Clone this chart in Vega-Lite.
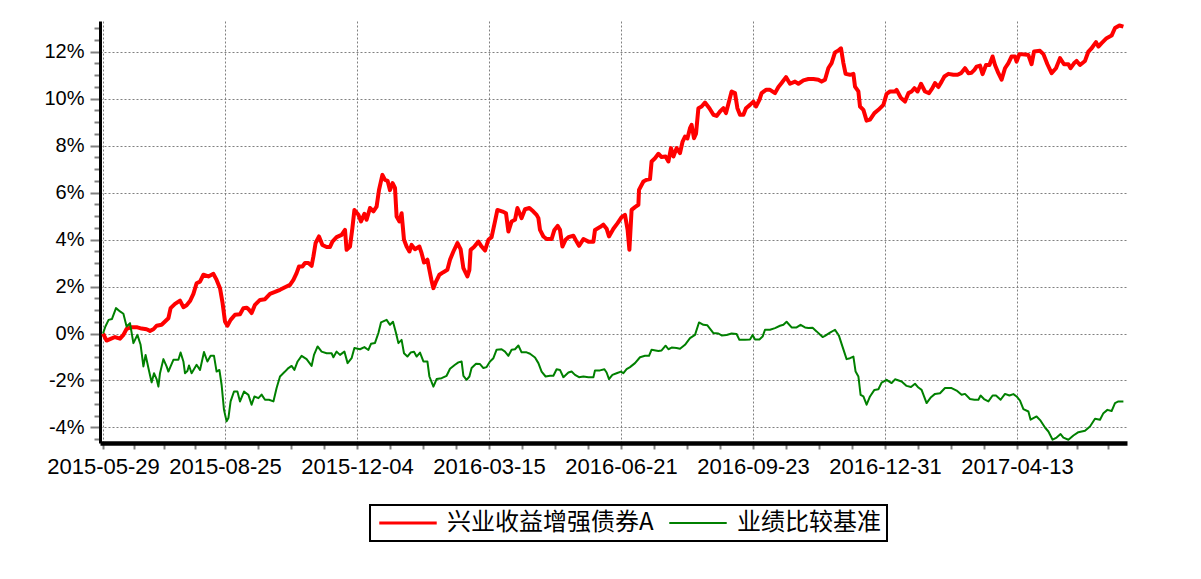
{
"$schema":"https://vega.github.io/schema/vega-lite/v6.json",
"width":1027,"height":422,
"autosize":{"type":"none"},
"padding":{"left":100,"top":21,"right":74,"bottom":136},
"background":"white",
"config":{"view":{"stroke":null},"font":"Liberation Sans"},
"datasets":{
"fund":[{"i":0,"v":0},{"i":1.8,"v":-0.3},{"i":3.5,"v":-0.24},{"i":6,"v":-0.15},{"i":8.5,"v":-0.22},{"i":10.2,"v":-0.06},{"i":11.8,"v":0.2},{"i":14.3,"v":0.27},{"i":16.8,"v":0.27},{"i":19.3,"v":0.21},{"i":21.8,"v":0.18},{"i":23.5,"v":0.11},{"i":25.2,"v":0.18},{"i":26.8,"v":0.33},{"i":29.3,"v":0.37},{"i":31,"v":0.51},{"i":32.7,"v":0.65},{"i":33.8,"v":1.08},{"i":36,"v":1.26},{"i":38.5,"v":1.4},{"i":40.2,"v":1.12},{"i":41.8,"v":1.2},{"i":43.5,"v":1.38},{"i":45.2,"v":1.69},{"i":46.8,"v":2.14},{"i":48.5,"v":2.21},{"i":50.2,"v":2.5},{"i":52.7,"v":2.43},{"i":55.2,"v":2.54},{"i":56.8,"v":2.28},{"i":58.5,"v":1.93},{"i":59.8,"v":1.29},{"i":61,"v":0.51},{"i":62.2,"v":0.33},{"i":63.8,"v":0.58},{"i":66,"v":0.8},{"i":68.5,"v":0.82},{"i":70.2,"v":1.08},{"i":71.8,"v":1.1},{"i":72.7,"v":1.04},{"i":74.3,"v":0.87},{"i":76,"v":1.22},{"i":78.5,"v":1.43},{"i":81,"v":1.46},{"i":83.5,"v":1.69},{"i":86,"v":1.77},{"i":88.5,"v":1.86},{"i":91,"v":1.97},{"i":93.5,"v":2.07},{"i":95.2,"v":2.28},{"i":96.8,"v":2.57},{"i":98,"v":2.85},{"i":99.7,"v":2.85},{"i":101,"v":3},{"i":102.7,"v":3},{"i":104.3,"v":2.88},{"i":105.2,"v":3.28},{"i":106.3,"v":3.85},{"i":108,"v":4.13},{"i":109.7,"v":3.77},{"i":111.8,"v":3.68},{"i":113.5,"v":3.68},{"i":114.7,"v":3.91},{"i":116.8,"v":4.1},{"i":119.3,"v":4.2},{"i":121,"v":4.41},{"i":121.8,"v":3.56},{"i":123.5,"v":3.7},{"i":124.7,"v":4.49},{"i":125.7,"v":5.26},{"i":127.7,"v":5.05},{"i":129,"v":4.77},{"i":130.7,"v":5.09},{"i":131.8,"v":4.84},{"i":133.5,"v":5.34},{"i":135.2,"v":5.2},{"i":136.8,"v":5.4},{"i":138,"v":6.11},{"i":139.7,"v":6.75},{"i":141,"v":6.54},{"i":142.3,"v":6.5},{"i":143.5,"v":6.1},{"i":144.8,"v":6.4},{"i":146,"v":6.2},{"i":146.8,"v":4.98},{"i":148.2,"v":4.77},{"i":149.3,"v":5.12},{"i":150.5,"v":3.99},{"i":151.8,"v":3.7},{"i":153.2,"v":3.49},{"i":154.3,"v":3.77},{"i":156,"v":3.59},{"i":158.2,"v":3.7},{"i":159.3,"v":3.42},{"i":160.5,"v":3.02},{"i":162.2,"v":3.14},{"i":163.2,"v":2.71},{"i":164.2,"v":2.28},{"i":165.2,"v":1.93},{"i":166.5,"v":2.21},{"i":168.2,"v":2.5},{"i":170.2,"v":2.61},{"i":172.2,"v":2.71},{"i":173.5,"v":3.14},{"i":175.2,"v":3.49},{"i":177.2,"v":3.85},{"i":178.8,"v":3.59},{"i":180.2,"v":2.78},{"i":182.2,"v":2.43},{"i":183.2,"v":2.71},{"i":183.8,"v":3.56},{"i":185.5,"v":3.68},{"i":187.7,"v":3.91},{"i":189.3,"v":3.7},{"i":191,"v":3.53},{"i":192.7,"v":3.99},{"i":194.3,"v":4.1},{"i":196,"v":4.77},{"i":197.2,"v":5.26},{"i":199.8,"v":5.19},{"i":201.5,"v":5.12},{"i":202.7,"v":4.34},{"i":204.3,"v":4.77},{"i":206,"v":4.84},{"i":207.2,"v":5.34},{"i":209.3,"v":4.91},{"i":211,"v":5.29},{"i":213.2,"v":5.34},{"i":215.2,"v":5.19},{"i":216.8,"v":5.05},{"i":217.7,"v":4.91},{"i":218.5,"v":4.41},{"i":220.2,"v":4.13},{"i":221.8,"v":4.02},{"i":224.3,"v":4.02},{"i":225.7,"v":4.41},{"i":227.3,"v":4.58},{"i":228.5,"v":4.41},{"i":229.7,"v":3.7},{"i":231.3,"v":3.99},{"i":232.7,"v":4.1},{"i":235.2,"v":4.16},{"i":236.8,"v":3.91},{"i":238,"v":3.73},{"i":240.2,"v":4.02},{"i":242.7,"v":3.91},{"i":245.2,"v":3.91},{"i":246,"v":4.41},{"i":248.5,"v":4.53},{"i":250.2,"v":4.63},{"i":251.8,"v":4.46},{"i":253,"v":4.13},{"i":255.2,"v":4.46},{"i":257.3,"v":4.7},{"i":259.3,"v":4.95},{"i":261,"v":5.05},{"i":262.3,"v":4.41},{"i":263.2,"v":3.56},{"i":264.3,"v":5.26},{"i":266,"v":5.38},{"i":267.7,"v":5.48},{"i":268,"v":6.11},{"i":270.2,"v":6.47},{"i":271.8,"v":6.54},{"i":273.5,"v":6.57},{"i":274.3,"v":7.32},{"i":276,"v":7.46},{"i":277.7,"v":7.65},{"i":279.3,"v":7.51},{"i":281.3,"v":7.53},{"i":282.7,"v":7.32},{"i":284,"v":7.89},{"i":285.2,"v":7.53},{"i":286.8,"v":7.89},{"i":288.5,"v":7.68},{"i":289.8,"v":8.17},{"i":291,"v":8.38},{"i":292.2,"v":8.3},{"i":293.5,"v":8.74},{"i":294.3,"v":8.88},{"i":295.5,"v":8.31},{"i":296.5,"v":8.5},{"i":297.7,"v":9.59},{"i":299.3,"v":9.66},{"i":301,"v":9.83},{"i":303.2,"v":9.59},{"i":305.2,"v":9.31},{"i":306.8,"v":9.26},{"i":308.5,"v":9.45},{"i":310.2,"v":9.59},{"i":311.5,"v":9.38},{"i":313.2,"v":9.94},{"i":314.3,"v":10.3},{"i":316,"v":10.23},{"i":317.2,"v":9.59},{"i":318.5,"v":9.31},{"i":320.2,"v":9.31},{"i":321.5,"v":9.59},{"i":323.5,"v":9.73},{"i":325.2,"v":9.87},{"i":326.5,"v":9.66},{"i":328.2,"v":9.94},{"i":329.3,"v":10.23},{"i":331.5,"v":10.37},{"i":333.5,"v":10.37},{"i":336,"v":10.23},{"i":337.7,"v":10.49},{"i":339.3,"v":10.66},{"i":341.5,"v":10.91},{"i":343.5,"v":10.63},{"i":346,"v":10.72},{"i":347.7,"v":10.63},{"i":350.2,"v":10.77},{"i":352.7,"v":10.83},{"i":355.2,"v":10.83},{"i":357.7,"v":10.8},{"i":359.3,"v":10.72},{"i":361,"v":10.8},{"i":362.7,"v":11.3},{"i":364.3,"v":11.51},{"i":366,"v":11.96},{"i":367.7,"v":12.04},{"i":369,"v":12.14},{"i":370.2,"v":11.51},{"i":371.3,"v":11.05},{"i":373.5,"v":11.01},{"i":375.2,"v":11.05},{"i":376,"v":10.51},{"i":377.7,"v":10.3},{"i":378.5,"v":9.66},{"i":380.2,"v":9.52},{"i":381.8,"v":9.06},{"i":383.5,"v":9.1},{"i":385.7,"v":9.38},{"i":387.7,"v":9.52},{"i":390.2,"v":9.73},{"i":391.8,"v":10.2},{"i":393.5,"v":10.3},{"i":396,"v":10.3},{"i":396.8,"v":10.37},{"i":399,"v":10.02},{"i":401,"v":9.87},{"i":402.7,"v":10.23},{"i":404.3,"v":10.3},{"i":405.7,"v":10.44},{"i":407.3,"v":10.3},{"i":409,"v":10.63},{"i":411,"v":10.3},{"i":413,"v":10.23},{"i":414.7,"v":10.44},{"i":416,"v":10.66},{"i":417.7,"v":10.49},{"i":419.3,"v":10.72},{"i":420.7,"v":10.94},{"i":422.7,"v":11.05},{"i":425.2,"v":11.01},{"i":427.3,"v":11.01},{"i":429,"v":11.08},{"i":431,"v":11.29},{"i":432.7,"v":11.08},{"i":434.3,"v":11.1},{"i":435.7,"v":11.22},{"i":436.8,"v":11.36},{"i":438.5,"v":11.4},{"i":439.8,"v":11.04},{"i":441.5,"v":11.43},{"i":443.2,"v":11.43},{"i":444.8,"v":11.79},{"i":446,"v":11.43},{"i":447.7,"v":11.08},{"i":449.3,"v":10.8},{"i":451,"v":11.29},{"i":452.7,"v":11.51},{"i":454.3,"v":11.79},{"i":456,"v":11.79},{"i":456.8,"v":11.57},{"i":458.2,"v":11.89},{"i":461,"v":11.87},{"i":462.7,"v":11.85},{"i":464.3,"v":11.46},{"i":465.5,"v":12},{"i":468.5,"v":12.03},{"i":470.2,"v":11.89},{"i":472.2,"v":11.46},{"i":474.3,"v":11.08},{"i":476.5,"v":11.29},{"i":478.5,"v":11.72},{"i":480.5,"v":11.46},{"i":482.7,"v":11.46},{"i":483.8,"v":11.29},{"i":485.5,"v":11.5},{"i":486.8,"v":11.6},{"i":488.5,"v":11.43},{"i":491,"v":11.6},{"i":492.7,"v":12},{"i":494.3,"v":12.14},{"i":496.5,"v":12.4},{"i":497.7,"v":12.21},{"i":499.3,"v":12.36},{"i":501.8,"v":12.57},{"i":504.3,"v":12.68},{"i":506,"v":13},{"i":508.2,"v":13.11},{"i":510.2,"v":13.06}],
"bench":[{"i":0,"v":0},{"i":1.2,"v":0.3},{"i":2.8,"v":0.58},{"i":4.5,"v":0.62},{"i":6.5,"v":1.08},{"i":8.5,"v":0.94},{"i":10.2,"v":0.84},{"i":11.8,"v":0.3},{"i":13.5,"v":0.44},{"i":15.2,"v":-0.41},{"i":17.2,"v":-0.06},{"i":18.8,"v":-0.48},{"i":20.2,"v":-1.4},{"i":21.3,"v":-0.91},{"i":22.7,"v":-1.47},{"i":24.3,"v":-2.08},{"i":25.5,"v":-1.69},{"i":26.8,"v":-1.94},{"i":27.7,"v":-2.26},{"i":28.5,"v":-1.69},{"i":30.2,"v":-1.09},{"i":31.8,"v":-1.4},{"i":32.7,"v":-1.62},{"i":33.8,"v":-1.4},{"i":35.2,"v":-1.12},{"i":37.7,"v":-1.12},{"i":38.8,"v":-0.81},{"i":40.2,"v":-1.19},{"i":41,"v":-1.69},{"i":42.2,"v":-1.6},{"i":43,"v":-1.36},{"i":44.3,"v":-1.69},{"i":46.8,"v":-1.33},{"i":48.5,"v":-1.55},{"i":50.5,"v":-0.79},{"i":52.2,"v":-1.19},{"i":53.8,"v":-0.95},{"i":55.5,"v":-0.95},{"i":56.8,"v":-1.62},{"i":58.2,"v":-1.55},{"i":59.3,"v":-2.18},{"i":60.5,"v":-3.25},{"i":61.8,"v":-3.74},{"i":62.7,"v":-3.6},{"i":63.8,"v":-2.89},{"i":65.5,"v":-2.47},{"i":67.2,"v":-2.47},{"i":68.5,"v":-2.89},{"i":70.5,"v":-2.47},{"i":72.7,"v":-2.61},{"i":74.3,"v":-3.03},{"i":75.7,"v":-2.68},{"i":77.7,"v":-2.75},{"i":79.3,"v":-2.6},{"i":81,"v":-2.82},{"i":83,"v":-2.82},{"i":85.2,"v":-2.89},{"i":86.8,"v":-2.32},{"i":88.5,"v":-1.83},{"i":91,"v":-1.62},{"i":92.7,"v":-1.47},{"i":94.3,"v":-1.38},{"i":95.7,"v":-1.55},{"i":97.3,"v":-1.19},{"i":99.3,"v":-0.95},{"i":101.8,"v":-1.09},{"i":104.3,"v":-1.38},{"i":105.5,"v":-0.91},{"i":107.3,"v":-0.55},{"i":109.3,"v":-0.77},{"i":111.8,"v":-0.84},{"i":114.3,"v":-0.84},{"i":115.2,"v":-1.01},{"i":116.8,"v":-0.77},{"i":118.5,"v":-0.91},{"i":120.7,"v":-0.77},{"i":122.3,"v":-1.26},{"i":124.3,"v":-1.05},{"i":125.7,"v":-0.62},{"i":128.5,"v":-0.67},{"i":130.7,"v":-0.58},{"i":132.7,"v":-0.7},{"i":134,"v":-0.44},{"i":136,"v":-0.4},{"i":137.7,"v":0.02},{"i":139,"v":0.47},{"i":141.8,"v":0.58},{"i":143.5,"v":0.37},{"i":145,"v":0.5},{"i":146.5,"v":0.02},{"i":147.7,"v":-0.41},{"i":149.3,"v":-0.27},{"i":150.5,"v":-0.84},{"i":152.2,"v":-0.98},{"i":153.8,"v":-0.81},{"i":155.5,"v":-0.78},{"i":156.8,"v":-0.98},{"i":158.5,"v":-0.81},{"i":160.2,"v":-1.19},{"i":162.2,"v":-1.19},{"i":163.2,"v":-1.83},{"i":165.2,"v":-2.26},{"i":166.8,"v":-1.94},{"i":169.3,"v":-1.9},{"i":171.8,"v":-1.8},{"i":173.5,"v":-1.5},{"i":176,"v":-1.33},{"i":177.7,"v":-1.23},{"i":179.3,"v":-1.19},{"i":180.2,"v":-1.8},{"i":181.8,"v":-1.97},{"i":183.2,"v":-1.83},{"i":184.3,"v":-1.47},{"i":186.5,"v":-1.29},{"i":188.5,"v":-1.3},{"i":190.2,"v":-1.47},{"i":191.8,"v":-1.43},{"i":193.5,"v":-1.19},{"i":195.2,"v":-1.05},{"i":196.8,"v":-0.69},{"i":199.3,"v":-0.67},{"i":201,"v":-0.77},{"i":202.7,"v":-0.95},{"i":204.3,"v":-0.69},{"i":206,"v":-0.67},{"i":207.7,"v":-0.51},{"i":209.3,"v":-0.8},{"i":211.8,"v":-0.8},{"i":213.5,"v":-0.86},{"i":216,"v":-1.02},{"i":217.7,"v":-1.26},{"i":219.3,"v":-1.62},{"i":221.3,"v":-1.83},{"i":223.5,"v":-1.8},{"i":225.2,"v":-1.8},{"i":226.8,"v":-1.52},{"i":228.5,"v":-1.55},{"i":230.2,"v":-1.86},{"i":232.7,"v":-1.66},{"i":234.3,"v":-1.62},{"i":236,"v":-1.76},{"i":238,"v":-1.86},{"i":240.2,"v":-1.83},{"i":242.7,"v":-1.86},{"i":245.2,"v":-1.86},{"i":246,"v":-1.57},{"i":248.5,"v":-1.57},{"i":250.7,"v":-1.52},{"i":251.8,"v":-1.66},{"i":253,"v":-1.94},{"i":254.7,"v":-1.76},{"i":256.8,"v":-1.69},{"i":259,"v":-1.62},{"i":260.2,"v":-1.69},{"i":261.8,"v":-1.52},{"i":263.5,"v":-1.43},{"i":266,"v":-1.26},{"i":268.5,"v":-1.01},{"i":271,"v":-0.95},{"i":273,"v":-0.95},{"i":274.3,"v":-0.69},{"i":276.3,"v":-0.72},{"i":277.7,"v":-0.74},{"i":279.3,"v":-0.72},{"i":281.3,"v":-0.52},{"i":282.7,"v":-0.67},{"i":284.3,"v":-0.6},{"i":286.8,"v":-0.62},{"i":288.5,"v":-0.65},{"i":291,"v":-0.48},{"i":293.5,"v":-0.2},{"i":296,"v":-0.06},{"i":298,"v":0.47},{"i":300.2,"v":0.37},{"i":302.2,"v":0.35},{"i":305.2,"v":0.02},{"i":307.7,"v":0},{"i":309.3,"v":-0.08},{"i":311.8,"v":-0.06},{"i":314.3,"v":0},{"i":316.8,"v":-0.02},{"i":318.2,"v":-0.27},{"i":321,"v":-0.27},{"i":323.5,"v":-0.25},{"i":324.8,"v":-0.06},{"i":326,"v":-0.25},{"i":328.2,"v":-0.25},{"i":329.8,"v":-0.13},{"i":331,"v":0.16},{"i":333.5,"v":0.16},{"i":336,"v":0.23},{"i":338.5,"v":0.33},{"i":340.2,"v":0.37},{"i":341.8,"v":0.5},{"i":344.3,"v":0.26},{"i":346.8,"v":0.26},{"i":348.8,"v":0.37},{"i":351,"v":0.26},{"i":352.7,"v":0.23},{"i":354.8,"v":0.24},{"i":356.8,"v":0.09},{"i":359.8,"v":-0.15},{"i":361,"v":-0.1},{"i":363.5,"v":0.04},{"i":366,"v":0.16},{"i":368,"v":-0.1},{"i":369.7,"v":-0.55},{"i":371.8,"v":-1.09},{"i":373.5,"v":-1.05},{"i":375.2,"v":-0.98},{"i":376.3,"v":-1.62},{"i":377.7,"v":-1.83},{"i":378.8,"v":-2.61},{"i":380.2,"v":-2.68},{"i":381.8,"v":-3.03},{"i":383.5,"v":-2.68},{"i":385.7,"v":-2.4},{"i":387.7,"v":-2.37},{"i":389.3,"v":-2.09},{"i":391.8,"v":-1.97},{"i":394.3,"v":-2.11},{"i":396,"v":-1.95},{"i":399.3,"v":-2.04},{"i":401.8,"v":-2.23},{"i":404,"v":-2.28},{"i":406,"v":-2.14},{"i":407.7,"v":-2.3},{"i":409.3,"v":-2.4},{"i":411.8,"v":-2.96},{"i":414,"v":-2.71},{"i":416,"v":-2.57},{"i":418.5,"v":-2.54},{"i":421,"v":-2.32},{"i":424.3,"v":-2.32},{"i":426.8,"v":-2.43},{"i":429.3,"v":-2.61},{"i":431,"v":-2.57},{"i":433.5,"v":-2.79},{"i":435.7,"v":-2.82},{"i":437.7,"v":-2.82},{"i":438.8,"v":-2.64},{"i":440.5,"v":-2.79},{"i":442.7,"v":-2.89},{"i":444.8,"v":-2.64},{"i":446.5,"v":-2.64},{"i":448.8,"v":-2.82},{"i":451,"v":-2.57},{"i":453.2,"v":-2.64},{"i":455.2,"v":-2.58},{"i":456.8,"v":-2.68},{"i":458.5,"v":-2.86},{"i":460.2,"v":-3.22},{"i":462.7,"v":-3.32},{"i":463.8,"v":-3.67},{"i":466.8,"v":-3.53},{"i":468.8,"v":-3.71},{"i":471,"v":-4},{"i":472.7,"v":-4.17},{"i":474.8,"v":-4.52},{"i":476.8,"v":-4.43},{"i":478.8,"v":-4.28},{"i":480.2,"v":-4.43},{"i":482.7,"v":-4.52},{"i":485.2,"v":-4.34},{"i":487.7,"v":-4.2},{"i":491,"v":-4.14},{"i":493.5,"v":-3.96},{"i":496,"v":-3.63},{"i":498.5,"v":-3.67},{"i":500.2,"v":-3.39},{"i":502.2,"v":-3.25},{"i":504.3,"v":-3.3},{"i":506,"v":-2.96},{"i":507.7,"v":-2.89},{"i":510.2,"v":-2.89}]
},
"encoding":{
"x":{"field":"i","type":"quantitative","scale":{"domain":[-1.5,512],"nice":false,"zero":false},
"axis":{"title":null,"values":[0,15.25,30.5,45.75,61,77.5,94,110.5,127,143.5,160,176.5,193,209.5,226,242.5,259,275.5,292,308.5,325,341.5,358,374.5,391,407.5,424,440.5,457,472,487,502.5],
"labelExpr":"datum.value==0?'2015-05-29':datum.value==61?'2015-08-25':datum.value==127?'2015-12-04':datum.value==193?'2016-03-15':datum.value==259?'2016-06-21':datum.value==325?'2016-09-23':datum.value==391?'2016-12-31':datum.value==457?'2017-04-13':''",
"labelFont":"Liberation Sans","labelFontSize":22,"labelColor":"black","labelPadding":7,"labelFlush":false,"labelOverlap":false,
"tickColor":"#808080","tickWidth":2,"tickSize":6,
"domainColor":"black","domainWidth":4.5,
"grid":true,"gridColor":"#808080","gridWidth":1,"gridDash":[2,2],
"gridOpacity":{"condition":{"test":"indexof([0,61,127,193,259,325,391,457], datum.value) >= 0","value":1},"value":0}}},
"y":{"field":"v","type":"quantitative","scale":{"domain":[-4.66,13.3],"nice":false,"zero":false},
"axis":{"title":null,"values":[-4.5,-4,-3.5,-3,-2.5,-2,-1.5,-1,-0.5,0,0.5,1,1.5,2,2.5,3,3.5,4,4.5,5,5.5,6,6.5,7,7.5,8,8.5,9,9.5,10,10.5,11,11.5,12,12.5,13],
"labelExpr":"indexof([-4,-2,0,2,4,6,8,10,12], datum.value) >= 0 ? datum.value + '%' : ''",
"labelFont":"Liberation Sans","labelFontSize":20,"labelColor":"black","labelPadding":6,"labelOverlap":false,"labelFlush":false,
"tickColor":"#808080","tickWidth":2,"tickSize":{"condition":{"test":"indexof([-4,-2,0,2,4,6,8,10,12], datum.value) >= 0","value":10},"value":6},
"domainColor":"black","domainWidth":3,
"grid":true,"gridColor":"#808080","gridWidth":1,"gridDash":[2,2],
"gridOpacity":{"condition":{"test":"indexof([-4,-2,0,2,4,6,8,10,12], datum.value) >= 0","value":1},"value":0}}}
},
"layer":[
{"data":{"name":"fund"},"mark":{"type":"line","strokeWidth":4,"strokeJoin":"round","clip":true},
"encoding":{"color":{"datum":"兴业收益增强债券A","type":"nominal","scale":{"domain":["兴业收益增强债券A","业绩比较基准"],"range":["#FF0000","#008000"]},
"legend":{"orient":"none","legendX":270,"legendY":484,"direction":"horizontal","title":null,
"strokeColor":"black","fillColor":"white","padding":6,"columnPadding":11,
"symbolType":"stroke","symbolSize":3300,"symbolStrokeWidth":3,"symbolOffset":20,
"labelFont":"Noto Sans CJK SC","labelFontSize":24,"labelColor":"black","labelOffset":27,"labelLimit":0,
"encode":{"legend":{"update":{"strokeWidth":{"value":2}}},"symbols":{"update":{"strokeWidth":{"signal":"datum.value == '兴业收益增强债券A' ? 3 : 2"}}}}}}}},
{"data":{"name":"bench"},"mark":{"type":"line","strokeWidth":2,"strokeJoin":"round","clip":true},
"encoding":{"color":{"datum":"业绩比较基准","type":"nominal"}}}
]
}
